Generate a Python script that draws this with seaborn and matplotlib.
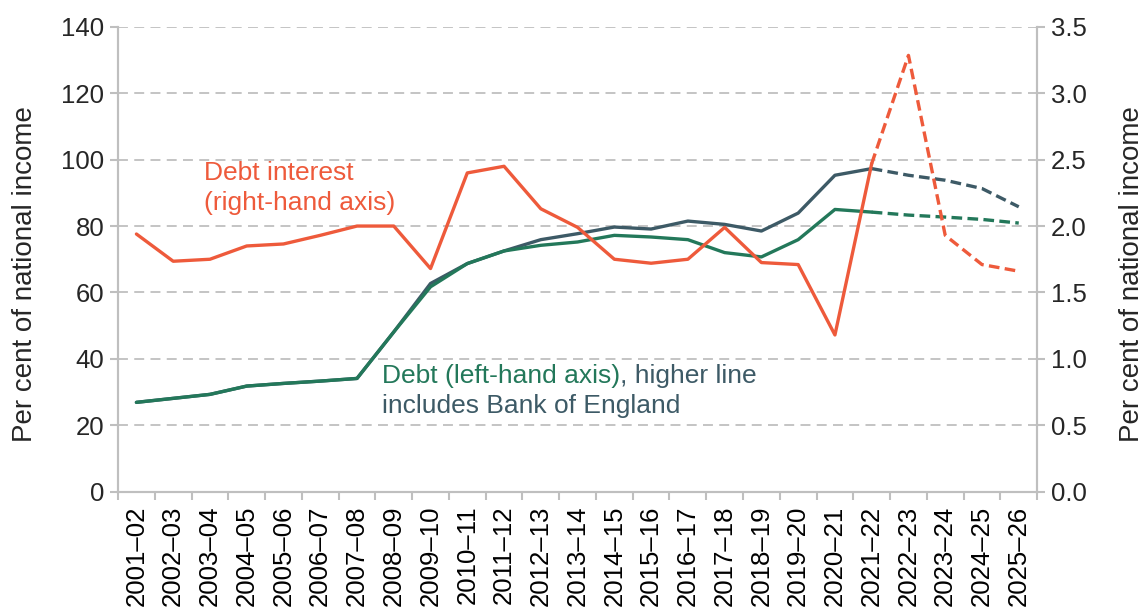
import numpy as np
import pandas as pd
import matplotlib
matplotlib.use("Agg")
import matplotlib.pyplot as plt
import seaborn as sns

years = ["2001–02", "2002–03", "2003–04", "2004–05", "2005–06", "2006–07", "2007–08",
         "2008–09", "2009–10", "2010–11", "2011–12", "2012–13", "2013–14", "2014–15",
         "2015–16", "2016–17", "2017–18", "2018–19", "2019–20", "2020–21", "2021–22",
         "2022–23", "2023–24", "2024–25", "2025–26"]

debt_excl_boe = [26.9, 28.1, 29.3, 31.8, 32.6, 33.3, 34.1, 48.1, 61.7, 68.7, 72.5, 74.2, 75.2,
                 77.2, 76.7, 75.9, 72.0, 70.7, 75.9, 85.0, 84.2, 83.3, 82.7, 82.0, 80.9]
debt_incl_boe = [26.9, 28.1, 29.3, 31.8, 32.6, 33.3, 34.1, 48.1, 62.7, 68.7, 72.5, 75.9, 77.7,
                 79.7, 79.1, 81.5, 80.5, 78.5, 83.9, 95.3, 97.3, 95.3, 93.8, 91.3, 85.8]
debt_interest = [1.94, 1.735, 1.75, 1.85, 1.865, 1.93, 2.0, 2.0, 1.68, 2.40, 2.45, 2.13, 1.99,
                 1.75, 1.72, 1.75, 1.99, 1.725, 1.71, 1.18, 2.47, 3.285, 1.93, 1.71, 1.66]
forecast_start = "2021–22"

left_ticks = [0, 20, 40, 60, 80, 100, 120, 140]
right_ticks = [0.0, 0.5, 1.0, 1.5, 2.0, 2.5, 3.0, 3.5]

ORANGE = "#EE5A3B"
GREEN = "#23785A"
SLATE = "#3D5A66"
GRID = "#BFBFBF"

sns.set_theme(style="white")
plt.rcParams["font.family"] = ["Liberation Sans", "DejaVu Sans"]

df = pd.DataFrame({"year": years, "pos": np.arange(len(years)),
                   "excl": debt_excl_boe, "incl": debt_incl_boe, "interest": debt_interest})
fs = years.index(forecast_start)
actual = df.iloc[:fs + 1]
forecast = df.iloc[fs:]

fig = plt.figure(figsize=(11.46, 6.10), dpi=100)
ax = fig.add_axes([0.103, 0.194, 0.802, 0.762])
ax2 = ax.twinx()

lw = 2.4
dash = (3.2, 1.6)
sns.lineplot(data=actual, x="pos", y="incl", ax=ax, color=SLATE, linewidth=lw)
sns.lineplot(data=forecast, x="pos", y="incl", ax=ax, color=SLATE, linewidth=lw)
ax.lines[-1].set_dashes(dash)
sns.lineplot(data=actual, x="pos", y="excl", ax=ax, color=GREEN, linewidth=lw)
sns.lineplot(data=forecast, x="pos", y="excl", ax=ax, color=GREEN, linewidth=lw)
ax.lines[-1].set_dashes(dash)
sns.lineplot(data=actual, x="pos", y="interest", ax=ax2, color=ORANGE, linewidth=lw)
sns.lineplot(data=forecast, x="pos", y="interest", ax=ax2, color=ORANGE, linewidth=lw)
ax2.lines[-1].set_dashes(dash)

ax.set_xlim(-0.5, len(years) - 0.5)
ax.set_ylim(0, 140)
ax2.set_ylim(0, 3.5)
ax.set_yticks(left_ticks)
ax.set_yticklabels([str(t) for t in left_ticks])
ax2.set_yticks(right_ticks)
ax2.set_yticklabels([f"{t:.1f}" for t in right_ticks])
ax.set_xticks(np.arange(len(years)))
ax.set_xticklabels(years, rotation=90)
ax.set_xticks(np.arange(len(years) + 1) - 0.5, minor=True)

ax.grid(axis="y", color=GRID, linestyle=(0, (5.5, 3.5)), linewidth=1.3)
ax.set_axisbelow(True)
ax2.grid(False)

for a in (ax, ax2):
    a.spines["top"].set_visible(False)
    for s in ["left", "right", "bottom"]:
        a.spines[s].set_color(GRID)
        a.spines[s].set_linewidth(1.5)

ax.tick_params(axis="x", which="major", length=0, labelsize=18.5, pad=10, colors="black")
ax.tick_params(axis="x", which="minor", length=6, width=1.5, color=GRID, bottom=True)
ax.tick_params(axis="y", length=6, width=1.5, color=GRID, labelsize=18.5, pad=4, left=True)
ax2.tick_params(axis="y", length=6, width=1.5, color=GRID, labelsize=18.5, pad=4, right=True)

ax.set_xlabel("")
ax.set_ylabel("Per cent of national income", fontsize=20)
ax2.set_ylabel("Per cent of national income", fontsize=20, rotation=90)
for a, xc in ((ax, -0.101), (ax2, 1.103)):
    a.yaxis.label.set_verticalalignment("center")
    a.yaxis.label.set_horizontalalignment("center")
    a.yaxis.set_label_coords(xc, 0.468)

ax.text(1.84, 95.9, "Debt interest", color=ORANGE, fontsize=19, va="center", ha="left")
ax.text(1.84, 86.8, "(right-hand axis)", color=ORANGE, fontsize=19, va="center", ha="left")
t1 = ax.text(6.68, 34.8, "Debt (left-hand axis)", color=GREEN, fontsize=19, va="center", ha="left")
ax.annotate(", higher line", xy=(1, 0), xycoords=t1, va="bottom", ha="left",
            color=SLATE, fontsize=19)
ax.text(6.68, 25.8, "includes Bank of England", color=SLATE, fontsize=19, va="center", ha="left")

fig.savefig("out.png", dpi=100)
